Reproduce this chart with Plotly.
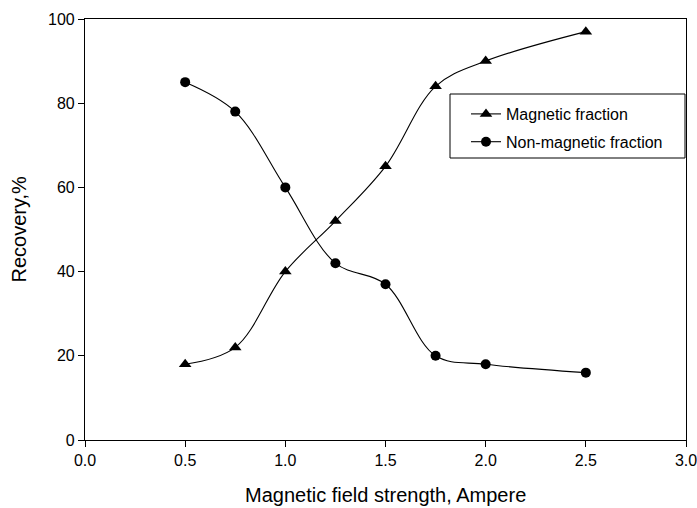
import plotly.graph_objects as go

field = [0.5, 0.75, 1.0, 1.25, 1.5, 1.75, 2.0, 2.5]
magnetic = [18, 22, 40, 52, 65, 84, 90, 97]
non_magnetic = [85, 78, 60, 42, 37, 20, 18, 16]

x_ticks = [0, 0.5, 1.0, 1.5, 2.0, 2.5, 3.0]
y_ticks = [0, 20, 40, 60, 80, 100]

FONT = "Liberation Sans, Arial, sans-serif"

# plot area in pixels
L, R, T, B = 85, 686, 19, 440
PW, PH = R - L, B - T


def px(x):
    return (x - L) / PW


def py(y):
    return (B - y) / PH


fig = go.Figure()
fig.add_trace(go.Scatter(
    x=field, y=magnetic, mode="lines+markers", name="Magnetic fraction",
    legendgroup="a",
    line=dict(color="black", width=1.1, shape="spline"),
    marker=dict(symbol="triangle-up", size=11, color="black"),
))
fig.add_trace(go.Scatter(
    x=field, y=non_magnetic, mode="lines+markers", name="Non-magnetic fraction",
    legendgroup="b",
    line=dict(color="black", width=1.1, shape="spline"),
    marker=dict(symbol="circle", size=10, color="black"),
))

axis_common = dict(
    showline=True, linecolor="black", linewidth=1.2, mirror=True,
    ticks="outside", ticklen=6, tickcolor="black", tickwidth=1.2,
    showgrid=False, zeroline=False, automargin=False,
    ticklabeloverflow="allow",
    tickfont=dict(family=FONT, size=16, color="black"),
)

fig.update_layout(
    width=697, height=508,
    margin=dict(l=L, r=697 - R, t=T, b=508 - B),
    paper_bgcolor="white", plot_bgcolor="white",
    font=dict(family=FONT, size=16, color="black"),
    xaxis=dict(range=[0, 3.0], tickvals=x_ticks, tickformat=".1f", **axis_common),
    yaxis=dict(range=[0, 100], tickvals=y_ticks, **axis_common),
    legend=dict(x=px(466), y=py(97), xanchor="left", yanchor="top",
                borderwidth=0, bgcolor="rgba(0,0,0,0)",
                font=dict(family=FONT, size=16, color="black"),
                tracegroupgap=4, itemwidth=30),
    showlegend=True,
    shapes=[
        dict(type="rect", xref="paper", yref="paper",
             x0=px(450), x1=px(685), y0=py(158), y1=py(94),
             line=dict(color="black", width=1), fillcolor="white", layer="above"),
    ],
    annotations=[
        dict(text="Magnetic field strength, Ampere", xref="paper", yref="paper",
             x=0.5, y=py(495), xanchor="center", yanchor="middle",
             showarrow=False, font=dict(family=FONT, size=20, color="black")),
        dict(text="Recovery,%", xref="paper", yref="paper",
             x=px(18), y=0.5, xanchor="center", yanchor="middle",
             textangle=-90, showarrow=False,
             font=dict(family=FONT, size=20, color="black")),
    ],
)

fig.write_html("out.html", config={"displayModeBar": False},
               post_script="document.body.style.margin='0';")
